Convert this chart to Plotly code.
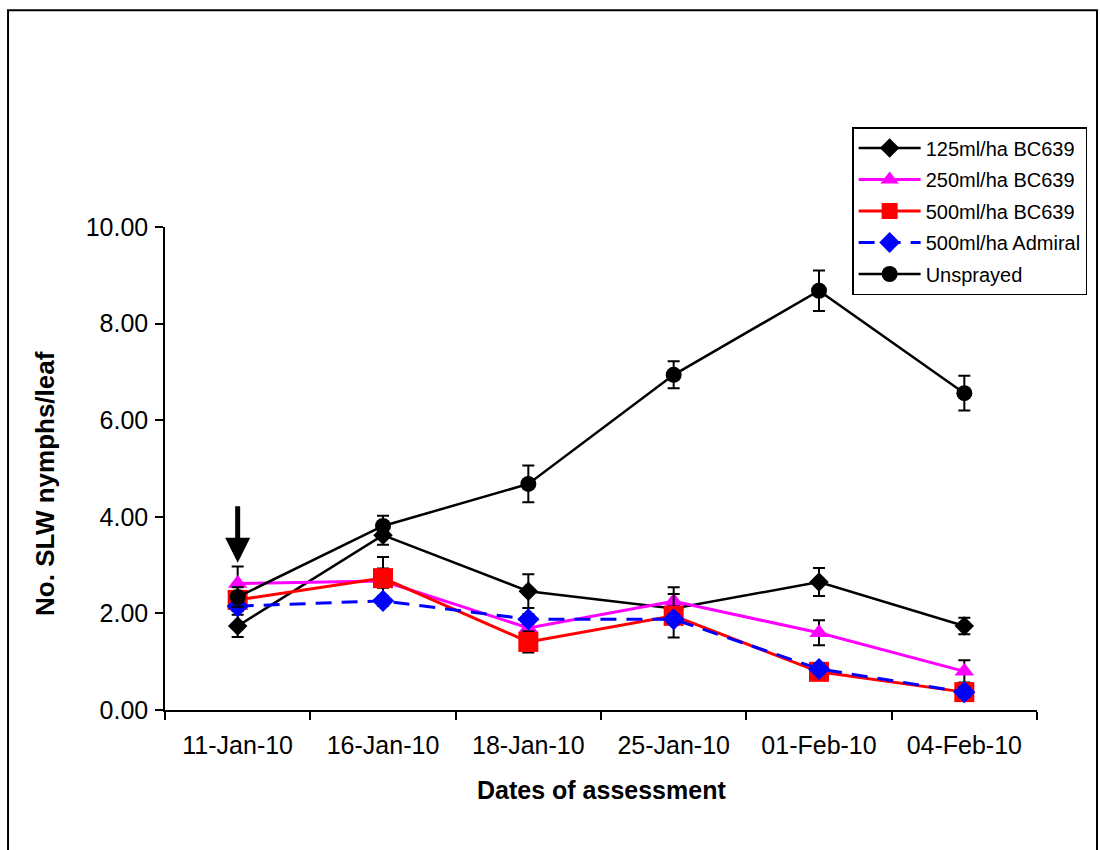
import plotly.graph_objects as go

dates = ['11-Jan-10', '16-Jan-10', '18-Jan-10', '25-Jan-10', '01-Feb-10', '04-Feb-10']

bc125 = [1.74, 3.62, 2.46, 2.10, 2.65, 1.74]
bc125_err = [0.23, 0.20, 0.35, 0.10, 0.29, 0.17]

bc250 = [2.62, 2.67, 1.70, 2.25, 1.60, 0.80]
bc250_err = [0.35, 0.50, 0.10, 0.29, 0.26, 0.23]

bc500 = [2.28, 2.73, 1.41, 1.95, 0.79, 0.37]
bc500_err = [0.15, 0.20, 0.22, 0.45, 0.10, 0.10]

admiral = [2.15, 2.26, 1.88, 1.88, 0.85, 0.37]
admiral_err = [0.10, 0.10, 0.10, 0.10, 0.10, 0.10]

unsprayed = [2.34, 3.81, 4.68, 6.94, 8.68, 6.56]
unsprayed_err = [0.20, 0.21, 0.38, 0.28, 0.42, 0.36]

y_ticks = [0, 2, 4, 6, 8, 10]
y_tick_labels = ['0.00', '2.00', '4.00', '6.00', '8.00', '10.00']

FONT = 'Liberation Sans, Arial, sans-serif'

def err(vals):
    return dict(type='data', array=vals, visible=True, color='black',
                thickness=2, width=6)

fig = go.Figure()
fig.add_trace(go.Scatter(x=dates, y=bc125, name='125ml/ha BC639', mode='lines+markers',
                         legendgroup='a',
                         line=dict(color='black', width=2.5),
                         marker=dict(symbol='diamond', size=15, color='black'),
                         error_y=err(bc125_err)))
fig.add_trace(go.Scatter(x=dates, y=bc250, name='250ml/ha BC639', mode='lines+markers',
                         legendgroup='b',
                         line=dict(color='#FF00FF', width=3),
                         marker=dict(symbol='triangle-up', size=17, color='#FF00FF'),
                         error_y=err(bc250_err)))
fig.add_trace(go.Scatter(x=dates, y=bc500, name='500ml/ha BC639', mode='lines+markers',
                         legendgroup='c',
                         line=dict(color='#FF0000', width=3),
                         marker=dict(symbol='square', size=20, color='#FF0000'),
                         error_y=err(bc500_err)))
fig.add_trace(go.Scatter(x=dates, y=admiral, name='500ml/ha Admiral', mode='lines+markers',
                         legendgroup='d',
                         line=dict(color='#0000FF', width=3, dash='16px,10px'),
                         marker=dict(symbol='diamond', size=17, color='#0000FF'),
                         error_y=err(admiral_err)))
fig.add_trace(go.Scatter(x=dates, y=unsprayed, name='Unsprayed', mode='lines+markers',
                         legendgroup='e',
                         line=dict(color='black', width=2.5),
                         marker=dict(symbol='circle', size=16, color='black'),
                         error_y=err(unsprayed_err)))

fig.update_layout(
    width=1100, height=850,
    margin=dict(l=165, r=63, t=227, b=140),
    paper_bgcolor='white', plot_bgcolor='white',
    font=dict(family=FONT, size=25, color='black'),
    showlegend=True,
    legend=dict(x=0.788, y=1.207, xanchor='left', yanchor='top',
                bordercolor='black', borderwidth=1.5, bgcolor='white',
                font=dict(family=FONT, size=20, color='black'),
                itemwidth=62, tracegroupgap=2.5),
    xaxis=dict(type='category', range=[-0.5, 5.5], showgrid=False,
               showline=True, linecolor='black', linewidth=1.5,
               ticks='outside', tickson='boundaries', ticklen=8, tickcolor='black',
               tickwidth=1.5, tickfont=dict(family=FONT, size=25, color='black'),
               ticklabelstandoff=12, zeroline=False, automargin=False),
    yaxis=dict(range=[0, 10], showgrid=False, showline=True, linecolor='black',
               linewidth=1.5, ticks='outside', ticklen=8, tickcolor='black',
               tickwidth=1.5, tickvals=y_ticks, ticktext=y_tick_labels,
               tickfont=dict(family=FONT, size=25, color='black'),
               ticklabelstandoff=2, zeroline=False, automargin=False),
    annotations=[
        dict(text='<b>Dates of assessment</b>', xref='paper', yref='paper',
             x=0.5, y=-0.166, showarrow=False, xanchor='center', yanchor='middle',
             font=dict(family=FONT, size=25, color='black')),
        dict(text='<b>No. SLW nymphs/leaf</b>', xref='paper', yref='paper',
             x=-0.1376, y=0.468, showarrow=False, textangle=-90,
             xanchor='center', yanchor='middle',
             font=dict(family=FONT, size=26, color='black')),
        dict(x=dates[0], y=3.05, xref='x', yref='y', ax=0, ay=-58,
             showarrow=True, arrowhead=2, arrowsize=1, arrowwidth=5,
             arrowcolor='black', text=''),
    ],
    shapes=[
        dict(type='rect', xref='paper', yref='paper', x0=-0.180, x1=1.0688,
             y0=-0.32, y1=1.449, line=dict(color='black', width=2),
             fillcolor='rgba(0,0,0,0)', layer='below'),
    ],
)

fig.write_html('out.html')
